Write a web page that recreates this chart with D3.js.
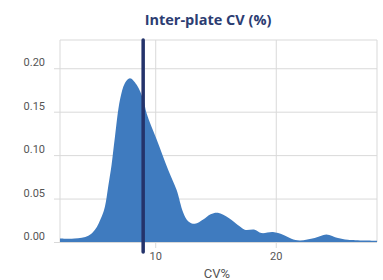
<!DOCTYPE html>
<html>
<head>
<meta charset="utf-8">
<script src="https://cdn.jsdelivr.net/npm/d3@7"></script>
<style>
  body { margin: 0; background: #fff; }
  svg { display: block; }
</style>
</head>
<body>
<div id="chart"></div>
<script>
// density of inter-plate CV
const cvValues = [2.1, 3.3, 4.45, 5.0, 5.56, 5.83, 6.1, 6.38, 6.66, 7.08, 7.49, 7.9, 8.46, 9.01, 9.29, 10.12, 11.08, 11.77, 12.32, 12.73, 13.29, 13.98, 14.6, 15.2, 16.1, 17.0, 17.43, 18.26, 18.81, 19.77, 20.6, 21.3, 21.99, 23.23, 24.2, 25.16, 25.99, 28.4];
const densityValues = [0.004, 0.004, 0.0072, 0.0141, 0.0294, 0.041, 0.064, 0.089, 0.121, 0.164, 0.183, 0.1885, 0.181, 0.164, 0.148, 0.118, 0.083, 0.06, 0.034, 0.024, 0.021, 0.026, 0.032, 0.0337, 0.0276, 0.018, 0.0141, 0.0141, 0.0103, 0.0115, 0.0084, 0.0038, 0.0018, 0.0046, 0.0087, 0.0046, 0.0026, 0.0015];
const meanCV = 9.0;
const xTicks = [10, 20];
const yTicks = [0, 0.05, 0.1, 0.15, 0.2];
const xDomain = [2.1, 28.4];
const yDomain = [0, 0.2325];

const data = cvValues.map((x, i) => ({ x: x, y: densityValues[i] }));

const width = 383;
const height = 280;
const margin = { top: 40, right: 6, bottom: 38, left: 60 };

const svg = d3
  .select('#chart')
  .append('svg')
  .attr('width', width)
  .attr('height', height);

const x = d3
  .scaleLinear()
  .domain(xDomain)
  .range([margin.left, width - margin.right]);

const y = d3
  .scaleLinear()
  .domain(yDomain)
  .range([height - margin.bottom, margin.top]);

// title
svg
  .append('text')
  .attr('x', 208)
  .attr('y', 25)
  .attr('text-anchor', 'middle')
  .attr('font-family', 'Open Sans, sans-serif')
  .attr('font-weight', 'bold')
  .attr('font-size', 14.5)
  .attr('fill', '#2c3d72')
  .text('Inter-plate CV (%)');

// y grid + labels
const yAxis = (g) =>
  g
    .attr('transform', `translate(${margin.left},0)`)
    .call(
      d3
        .axisLeft(y)
        .tickValues(yTicks)
        .tickFormat(d3.format('.2f'))
        .tickSize(6)
        .tickPadding(9)
    )
    .call((g) => g.select('.domain').remove())
    .call((g) =>
      g
        .selectAll('.tick line')
        .attr('x2', width - margin.left - margin.right)
        .attr('x1', -6)
        .attr('stroke', '#d9d9d9')
    )
    .call((g) =>
      g
        .selectAll('.tick text')
        .attr('y', -6)
        .attr('font-family', 'Roboto, sans-serif')
        .attr('font-size', 11)
        .attr('fill', '#555')
    );

// x grid + labels
const xAxis = (g) =>
  g
    .attr('transform', `translate(0,${height - margin.bottom})`)
    .call(d3.axisBottom(x).tickValues(xTicks).tickSize(6).tickPadding(4))
    .call((g) => g.select('.domain').remove())
    .call((g) =>
      g
        .selectAll('.tick line')
        .attr('y1', -(height - margin.top - margin.bottom))
        .attr('stroke', '#d9d9d9')
    )
    .call((g) =>
      g
        .selectAll('.tick text')
        .attr('font-family', 'Roboto, sans-serif')
        .attr('font-size', 11)
        .attr('fill', '#555')
    );

svg.append('g').call(yAxis);
svg.append('g').call(xAxis);

// frame left/right/top
const frame = svg.append('g').attr('stroke', '#d9d9d9').attr('fill', 'none');
frame
  .append('line')
  .attr('x1', margin.left)
  .attr('x2', margin.left)
  .attr('y1', margin.top)
  .attr('y2', height - margin.bottom);
frame
  .append('line')
  .attr('x1', width - margin.right)
  .attr('x2', width - margin.right)
  .attr('y1', margin.top)
  .attr('y2', height - margin.bottom);
frame
  .append('line')
  .attr('x1', margin.left)
  .attr('x2', width - margin.right)
  .attr('y1', margin.top)
  .attr('y2', margin.top);

// density area
const area = d3
  .area()
  .x((d) => x(d.x))
  .y0(y(0))
  .y1((d) => y(d.y))
  .curve(d3.curveCatmullRom.alpha(0.5));

svg
  .append('path')
  .datum(data)
  .attr('fill', '#3f7bbf')
  .attr('d', area);

// mean line
svg
  .append('line')
  .attr('x1', x(meanCV))
  .attr('x2', x(meanCV))
  .attr('y1', margin.top)
  .attr('y2', height - margin.bottom + 10)
  .attr('stroke', '#24336b')
  .attr('stroke-width', 3.5)
  .attr('stroke-linecap', 'round');

// x axis title
svg
  .append('text')
  .attr('x', 217)
  .attr('y', 278)
  .attr('text-anchor', 'middle')
  .attr('font-family', 'Roboto, sans-serif')
  .attr('font-size', 13)
  .attr('fill', '#555')
  .text('CV%');
</script>
</body>
</html>
